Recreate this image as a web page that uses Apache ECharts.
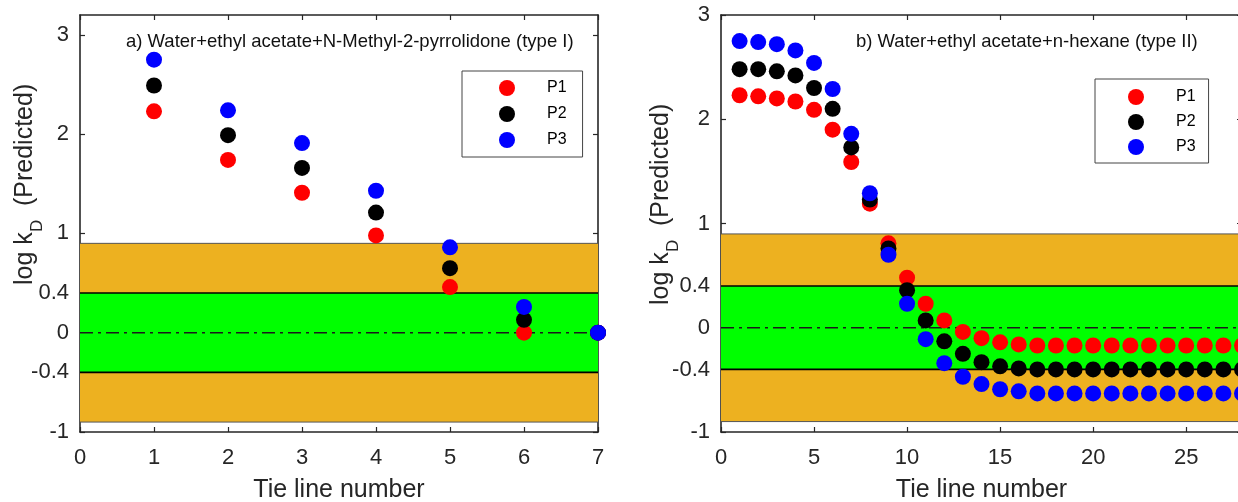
<!DOCTYPE html>
<html>
<head>
<meta charset="utf-8">
<script src="https://cdn.jsdelivr.net/npm/echarts@6/dist/echarts.min.js"></script>
<style>
  html, body { margin: 0; padding: 0; background: #fff; }
  #chart { width: 1238px; height: 502px; }
</style>
</head>
<body>
<div id="chart"></div>
<script>
// panel a) type I system
var tieA = [1, 2, 3, 4, 5, 6, 7]
var p1A = [2.23, 1.74, 1.41, 0.98, 0.46, 0.0, 0.0]
var p2A = [2.49, 1.99, 1.66, 1.21, 0.65, 0.13, 0.0]
var p3A = [2.75, 2.24, 1.91, 1.43, 0.86, 0.26, 0.0]

// panel b) type II system
var tieB = [1, 2, 3, 4, 5, 6, 7, 8, 9, 10, 11, 12, 13, 14, 15, 16, 17, 18, 19, 20, 21, 22, 23, 24, 25, 26, 27, 28]
var p1B = [2.23, 2.22, 2.20, 2.17, 2.09, 1.90, 1.59, 1.19, 0.81, 0.48, 0.23, 0.07, -0.04, -0.10, -0.14, -0.16,
  -0.17, -0.17, -0.17, -0.17, -0.17, -0.17, -0.17, -0.17, -0.17, -0.17, -0.17, -0.17]
var p2B = [2.48, 2.48, 2.46, 2.42, 2.30, 2.10, 1.73, 1.23, 0.76, 0.36, 0.07, -0.13, -0.25, -0.33, -0.37, -0.39,
  -0.40, -0.40, -0.40, -0.40, -0.40, -0.40, -0.40, -0.40, -0.40, -0.40, -0.40, -0.40]
var p3B = [2.75, 2.74, 2.72, 2.66, 2.54, 2.29, 1.86, 1.29, 0.70, 0.23, -0.11, -0.34, -0.47, -0.54, -0.59, -0.61,
  -0.63, -0.63, -0.63, -0.63, -0.63, -0.63, -0.63, -0.63, -0.63, -0.63, -0.63, -0.63]

var yTicks = [-1, -0.4, 0, 0.4, 1, 2, 3]
var greenBand = [-0.4, 0.4]
var orangeBand = [-0.9, 0.9]
var xRangeA = [0, 7]
var xRangeB = [0, 28]

var FONT = 'Liberation Sans, Arial, sans-serif'
var AX = '#262626'
var names = ['P1', 'P2', 'P3']
var colors = ['#ff0000', '#000000', '#0000ff']

function zip(xs, ys) {
  return xs.map(function (x, i) { return [x, ys[i]] })
}

function xAxes(gi, range, step) {
  var base = {
    gridIndex: gi, type: 'value', min: range[0], max: range[1], interval: step,
    axisLine: { show: true, onZero: false, lineStyle: { color: AX, width: 1.6 } },
    axisTick: { show: true, inside: true, length: 5, lineStyle: { color: AX, width: 1.2 } },
    splitLine: { show: false }
  }
  var bottom = Object.assign({}, base, {
    position: 'bottom',
    axisLabel: { fontSize: 22, color: AX, fontFamily: FONT, margin: 15, showMaxLabel: range[1] % step === 0 },
    name: 'Tie line number', nameLocation: 'middle', nameGap: 46,
    nameTextStyle: { fontSize: 25, color: AX, fontFamily: FONT }
  })
  var top = Object.assign({}, base, { position: 'top', axisLabel: { show: false } })
  return [bottom, top]
}

function yAxes(gi, max) {
  var base = {
    gridIndex: gi, type: 'value', min: -1, max: max,
    axisLine: { show: true, onZero: false, lineStyle: { color: AX, width: 1.6 } },
    axisTick: { show: true, inside: true, length: 5, customValues: yTicks, lineStyle: { color: AX, width: 1.2 } },
    splitLine: { show: false }
  }
  var left = Object.assign({}, base, {
    position: 'left',
    axisLabel: { fontSize: 22, color: AX, fontFamily: FONT, margin: 11, customValues: yTicks }
  })
  var right = Object.assign({}, base, { position: 'right', axisLabel: { show: false } })
  return [left, right]
}

function panelSeries(gi, tie, sets, range) {
  var xi = gi * 2, yi = gi * 2
  var out = []
  // bands + dash-dot zero line
  out.push({
    type: 'line', xAxisIndex: xi, yAxisIndex: yi, z: 2, silent: true,
    data: zip(range, [0, 0]), symbol: 'none',
    lineStyle: { color: '#1a1a1a', width: 1.4, type: [13, 5, 3, 5] },
    markArea: {
      silent: true,
      data: [
        [{ yAxis: greenBand[1], itemStyle: { color: '#edb120' } }, { yAxis: orangeBand[1] }],
        [{ yAxis: orangeBand[0], itemStyle: { color: '#edb120' } }, { yAxis: greenBand[0] }],
        [{ yAxis: greenBand[0], itemStyle: { color: '#00ff00' } }, { yAxis: greenBand[1] }]
      ]
    }
  })
  var edges = [
    { v: orangeBand[1], c: '#555', w: 1 },
    { v: greenBand[1], c: '#000', w: 1.5 },
    { v: greenBand[0], c: '#000', w: 1.8 },
    { v: orangeBand[0], c: '#555', w: 1 }
  ]
  edges.forEach(function (e) {
    out.push({
      type: 'line', xAxisIndex: xi, yAxisIndex: yi, z: 2, silent: true, symbol: 'none',
      data: zip(range, [e.v, e.v]),
      lineStyle: { color: e.c, width: e.w }
    })
  })
  sets.forEach(function (vals, k) {
    out.push({
      type: 'scatter', name: names[k], xAxisIndex: xi, yAxisIndex: yi, z: 3,
      symbol: 'circle', symbolSize: 16,
      itemStyle: { color: colors[k], opacity: 1 },
      data: zip(tie, vals)
    })
  })
  return out
}

function legendAt(left, top, padding, gap) {
  return {
    orient: 'vertical', left: left, top: top, padding: padding, itemGap: gap,
    itemWidth: 70, itemHeight: 16, borderColor: '#444', borderWidth: 1, backgroundColor: '#fff',
    textStyle: { fontSize: 16, color: '#000', fontFamily: FONT },
    data: names.map(function (n) { return { name: n, icon: 'circle' } })
  }
}

function yName(x, y) {
  return {
    type: 'group', x: x, y: y, rotation: Math.PI / 2,
    children: [
      { type: 'text', x: 0, y: 0, style: { text: 'log k', font: '25px ' + FONT, fill: AX, align: 'left', verticalAlign: 'middle' } },
      { type: 'text', x: 53, y: 12, style: { text: 'D', font: '17px ' + FONT, fill: AX, align: 'left', verticalAlign: 'middle' } },
      { type: 'text', x: 72, y: 0, style: { text: ' (Predicted)', font: '25px ' + FONT, fill: AX, align: 'left', verticalAlign: 'middle' } }
    ]
  }
}

var myChart = echarts.init(document.getElementById('chart'), null, { renderer: 'canvas' })
var option = {
  animation: false,
  backgroundColor: '#fff',
  title: [
    { text: 'a) Water+ethyl acetate+N-Methyl-2-pyrrolidone (type I)', left: 121, top: 27,
      textStyle: { fontSize: 18.5, fontWeight: 'normal', color: '#111', fontFamily: FONT } },
    { text: 'b) Water+ethyl acetate+n-hexane (type II)', left: 851, top: 27,
      textStyle: { fontSize: 18.5, fontWeight: 'normal', color: '#111', fontFamily: FONT } }
  ],
  legend: [
    legendAt(462, 71, [9, 16, 9, 37], 10),
    legendAt(1095, 79, [10, 13, 8, 33], 9)
  ],
  grid: [
    { left: 80, top: 15, width: 518, height: 417, outerBoundsMode: 'none', containLabel: false },
    { left: 721, top: 15, width: 521, height: 417, outerBoundsMode: 'none', containLabel: false }
  ],
  xAxis: xAxes(0, xRangeA, 1).concat(xAxes(1, xRangeB, 5)),
  yAxis: yAxes(0, 3.2).concat(yAxes(1, 3)),
  series: panelSeries(0, tieA, [p1A, p2A, p3A], xRangeA)
    .concat(panelSeries(1, tieB, [p1B, p2B, p3B], xRangeB)),
  graphic: [yName(25, 285), yName(661, 305)]
}
myChart.setOption(option)
</script>
</body>
</html>
